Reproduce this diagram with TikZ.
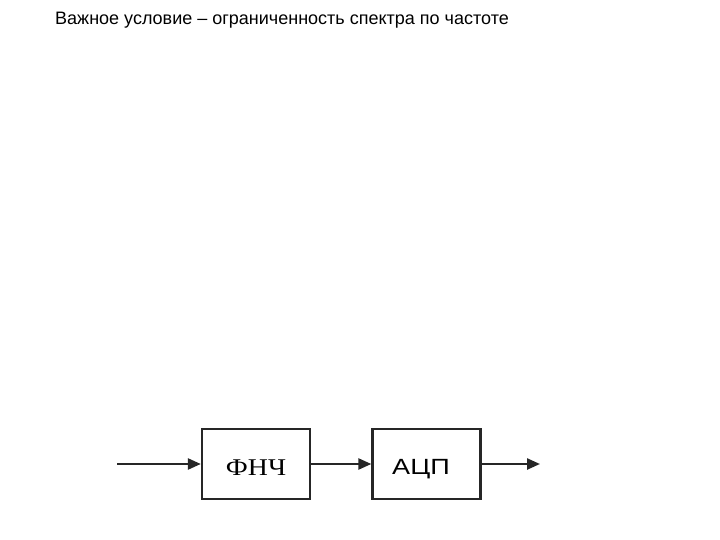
\documentclass[tikz,border=0pt]{standalone}
\usepackage{graphicx}
\usepackage{fontspec}
\setmainfont{Liberation Sans}
\newfontfamily\serifru{Liberation Serif}
\usetikzlibrary{arrows.meta}
\begin{document}
\begin{tikzpicture}[x=1pt,y=-1pt,
  blockbox/.style={draw=black!85,line width=2.3pt,minimum width=108pt,minimum height=70pt,inner sep=0pt,text height=0pt,text depth=0pt},
  flow/.style={draw=black!85,line width=2.4pt,-{Triangle[length=13pt,width=11pt]}}]
\useasboundingbox[fill=white] (0,0) rectangle (720,540);
\node[anchor=base west,inner sep=0pt,font=\fontsize{18}{20}\selectfont] (title) at (55,25) {Важное условие – ограниченность спектра по частоте};
\node[blockbox] (fnch) at (256,464) {\raisebox{-11pt}{\makebox[0pt]{\scalebox{1.16}[1]{\serifru\fontsize{24}{26}\selectfont ФНЧ}}}};
\node[blockbox] (acp) at (426.5,464) {\raisebox{-10pt}{\makebox[0pt]{\hspace{-11pt}\scalebox{1.23}[1]{\fontsize{22}{24}\selectfont АЦП}}}};
\coordinate (in) at (117,464);
\coordinate (out) at (540,464);
\draw[flow] (in) -- (fnch.west);
\draw[flow] (fnch.east) -- (acp.west);
\draw[flow] (acp.east) -- (out);
\end{tikzpicture}
\end{document}
